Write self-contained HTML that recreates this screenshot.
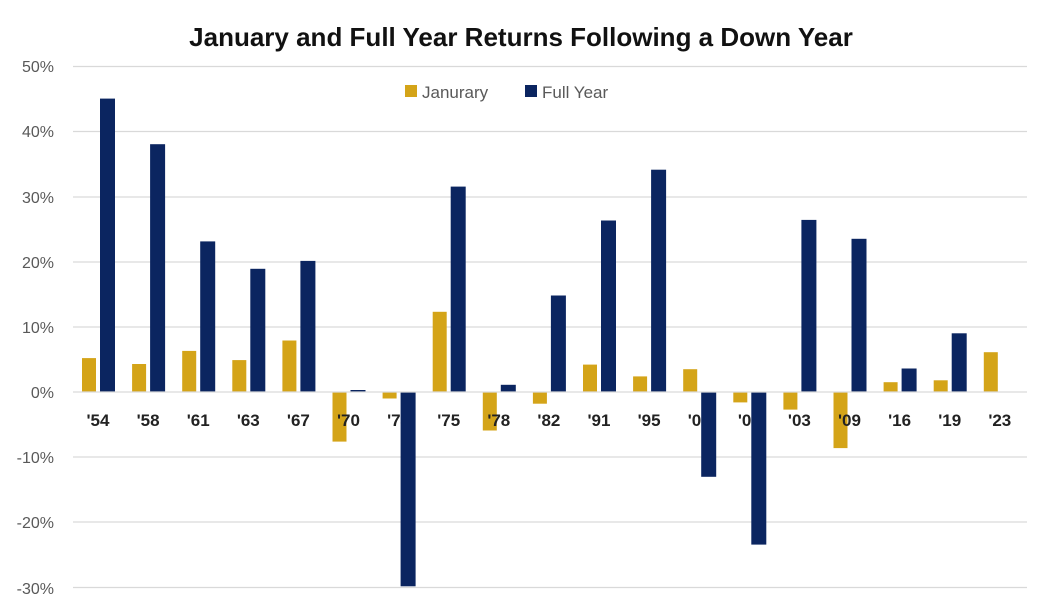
<!DOCTYPE html><html><head><style>body{margin:0;background:#fff}</style></head><body>
<svg width="1041" height="602" xmlns="http://www.w3.org/2000/svg" font-family="Liberation Sans, sans-serif">
<rect width="1041" height="602" fill="#fff"/>
<text x="521" y="46" text-anchor="middle" font-size="26" font-weight="bold" fill="#111">January and Full Year Returns Following a Down Year</text>
<g stroke="#d9d9d9" stroke-width="1.3">
<line x1="73" x2="1027" y1="66.5" y2="66.5"/><line x1="73" x2="1027" y1="131.5" y2="131.5"/><line x1="73" x2="1027" y1="197" y2="197"/><line x1="73" x2="1027" y1="262" y2="262"/><line x1="73" x2="1027" y1="327" y2="327"/><line x1="73" x2="1027" y1="457" y2="457"/><line x1="73" x2="1027" y1="522" y2="522"/><line x1="73" x2="1027" y1="587.5" y2="587.5"/>
</g>
<g font-size="16" fill="#595959" text-anchor="end">
<text x="54" y="72">50%</text><text x="54" y="137">40%</text><text x="54" y="203">30%</text><text x="54" y="268">20%</text><text x="54" y="333">10%</text><text x="54" y="398">0%</text><text x="54" y="463">-10%</text><text x="54" y="528">-20%</text><text x="54" y="594">-30%</text>
</g>
<rect x="405" y="85" width="12" height="12" fill="#D4A418"/><text x="422" y="98" font-size="17" fill="#595959">Janurary</text>
<rect x="525" y="85" width="12" height="12" fill="#0B2560"/><text x="542" y="98" font-size="17" fill="#595959">Full Year</text>
<g fill="#D4A418">
<rect x="82" y="358.1" width="14" height="33.9"/>
<rect x="132.1" y="364" width="14" height="28"/>
<rect x="182.2" y="350.9" width="14" height="41.1"/>
<rect x="232.3" y="360.1" width="14" height="31.9"/>
<rect x="282.4" y="340.5" width="14" height="51.5"/>
<rect x="332.5" y="392" width="14" height="49.6"/>
<rect x="382.6" y="392" width="14" height="6.5"/>
<rect x="432.7" y="311.8" width="14" height="80.2"/>
<rect x="482.8" y="392" width="14" height="38.5"/>
<rect x="532.9" y="392" width="14" height="11.7"/>
<rect x="583" y="364.6" width="14" height="27.4"/>
<rect x="633.1" y="376.4" width="14" height="15.6"/>
<rect x="683.2" y="369.2" width="14" height="22.8"/>
<rect x="733.3" y="392" width="14" height="10.4"/>
<rect x="783.4" y="392" width="14" height="17.6"/>
<rect x="833.5" y="392" width="14" height="56.1"/>
<rect x="883.6" y="382.2" width="14" height="9.8"/>
<rect x="933.7" y="380.3" width="14" height="11.7"/>
<rect x="983.8" y="352.2" width="14" height="39.8"/>
</g>
<g font-size="17" font-weight="bold" fill="#222" text-anchor="middle">
<text x="98" y="426">'54</text><text x="148.1" y="426">'58</text><text x="198.2" y="426">'61</text><text x="248.3" y="426">'63</text><text x="298.4" y="426">'67</text><text x="348.5" y="426">'70</text><text x="398.6" y="426">'74</text><text x="448.7" y="426">'75</text><text x="498.8" y="426">'78</text><text x="548.9" y="426">'82</text><text x="599" y="426">'91</text><text x="649.1" y="426">'95</text><text x="699.2" y="426">'01</text><text x="749.3" y="426">'02</text><text x="799.4" y="426">'03</text><text x="849.5" y="426">'09</text><text x="899.6" y="426">'16</text><text x="949.7" y="426">'19</text><text x="999.8" y="426">'23</text>
</g>
<g fill="#0B2560">
<rect x="100" y="98.6" width="15" height="293.4"/>
<rect x="150.1" y="144.2" width="15" height="247.8"/>
<rect x="200.2" y="241.4" width="15" height="150.6"/>
<rect x="250.3" y="268.8" width="15" height="123.2"/>
<rect x="300.4" y="260.9" width="15" height="131.1"/>
<rect x="350.5" y="390" width="15" height="2"/>
<rect x="400.6" y="392" width="15" height="194.3"/>
<rect x="450.7" y="186.6" width="15" height="205.4"/>
<rect x="500.8" y="384.8" width="15" height="7.2"/>
<rect x="550.9" y="295.5" width="15" height="96.5"/>
<rect x="601" y="220.5" width="15" height="171.5"/>
<rect x="651.1" y="169.7" width="15" height="222.3"/>
<rect x="701.2" y="392" width="15" height="84.8"/>
<rect x="751.3" y="392" width="15" height="152.6"/>
<rect x="801.4" y="219.9" width="15" height="172.1"/>
<rect x="851.5" y="238.8" width="15" height="153.2"/>
<rect x="901.6" y="368.5" width="15" height="23.5"/>
<rect x="951.7" y="333.3" width="15" height="58.7"/>
</g>
<line x1="73" x2="1027" y1="392" y2="392" stroke="#d9d9d9" stroke-width="1.3"/>
</svg>
</body></html>
